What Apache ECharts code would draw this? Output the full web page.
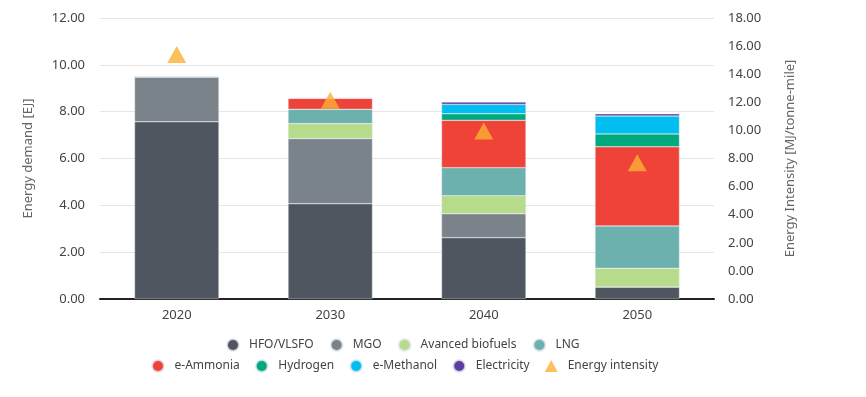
<!DOCTYPE html>
<html>
<head>
<meta charset="utf-8">
<script src="https://cdn.jsdelivr.net/npm/echarts@6/dist/echarts.min.js"></script>
<style>
  html, body { margin: 0; padding: 0; background: #fff; }
  #main { width: 866px; height: 397px; }
</style>
</head>
<body>
<div id="main"></div>
<script>
var years = ['2020', '2030', '2040', '2050'];

var hfo = [7.57, 4.07, 2.62, 0.51];
var mgo = [1.92, 2.78, 1.02, 0];
var biofuels = [0, 0.64, 0.77, 0.80];
var lng = [0, 0.61, 1.20, 1.81];
var ammonia = [0, 0.47, 2.02, 3.38];
var hydrogen = [0, 0, 0.28, 0.55];
var methanol = [0, 0, 0.40, 0.76];
var electricity = [0, 0, 0.1, 0.1];
var intensity = [15.4, 12.15, 9.95, 7.7];

var font = 'Noto Sans';

var chart = echarts.init(document.getElementById('main'));

function barSeries(name, data, color) {
  return {
    name: name,
    type: 'bar',
    stack: 'demand',
    barWidth: '55%',
    data: data,
    itemStyle: { color: color, borderColor: 'rgba(230,232,240,0.8)', borderWidth: 0.5 },
    emphasis: { disabled: true }
  };
}

var legendText = { color: '#444', fontSize: 12, fontFamily: font, padding: [0, 0, 0, 5] };

var option = {
  animation: false,
  grid: { left: 100, right: 152, top: 18, bottom: 98 },
  legend: [
    {
      left: 226, top: 338, padding: 0,
      itemWidth: 12, itemHeight: 12, itemGap: 16,
      icon: 'circle',
      textStyle: legendText,
      data: ['HFO/VLSFO', 'MGO', 'Avanced biofuels', 'LNG']
    },
    {
      left: 151, top: 359, padding: 0,
      itemWidth: 13, itemHeight: 12, itemGap: 15,
      textStyle: legendText,
      data: [
        { name: 'e-Ammonia', icon: 'circle' },
        { name: 'Hydrogen', icon: 'circle' },
        { name: 'e-Methanol', icon: 'circle' },
        { name: 'Electricity', icon: 'circle' },
        { name: 'Energy intensity', icon: 'triangle' }
      ]
    }
  ],
  xAxis: {
    type: 'category',
    data: years,
    axisLine: { lineStyle: { color: '#222', width: 2 } },
    axisTick: { show: false },
    axisLabel: { color: '#444', fontSize: 13, fontFamily: font, margin: 10 }
  },
  yAxis: [
    {
      type: 'value',
      min: 0, max: 12, interval: 2,
      name: 'Energy demand [EJ]',
      nameLocation: 'middle',
      nameGap: 65,
      nameTextStyle: { color: '#666', fontSize: 13, fontFamily: font },
      axisLabel: {
        color: '#444', fontSize: 13, fontFamily: font, margin: 15,
        formatter: function (v) { return v.toFixed(2); }
      },
      splitLine: { lineStyle: { color: '#e6e6e6' } }
    },
    {
      type: 'value',
      min: -2, max: 18, interval: 2,
      name: 'Energy Intensity [MJ/tonne-mile]',
      nameLocation: 'middle',
      nameGap: 70,
      nameTextStyle: { color: '#666', fontSize: 13, fontFamily: font },
      axisLabel: {
        color: '#444', fontSize: 13, fontFamily: font, margin: 14,
        formatter: function (v) { return (v < 0 ? 0 : v).toFixed(2); }
      },
      splitLine: { show: false }
    }
  ],
  series: [
    barSeries('HFO/VLSFO', hfo, '#4f5660'),
    barSeries('MGO', mgo, '#7a838a'),
    barSeries('Avanced biofuels', biofuels, '#b6dc8b'),
    barSeries('LNG', lng, '#6cb1ad'),
    barSeries('e-Ammonia', ammonia, '#ef4238'),
    barSeries('Hydrogen', hydrogen, '#00a97e'),
    barSeries('e-Methanol', methanol, '#00bff0'),
    barSeries('Electricity', electricity, '#5a3fa0'),
    {
      name: 'Energy intensity',
      type: 'scatter',
      yAxisIndex: 1,
      symbol: 'triangle',
      symbolSize: [19, 17],
      data: intensity,
      itemStyle: { color: '#fbb034' },
      z: 10
    }
  ]
};

chart.setOption(option);
</script>
</body>
</html>
